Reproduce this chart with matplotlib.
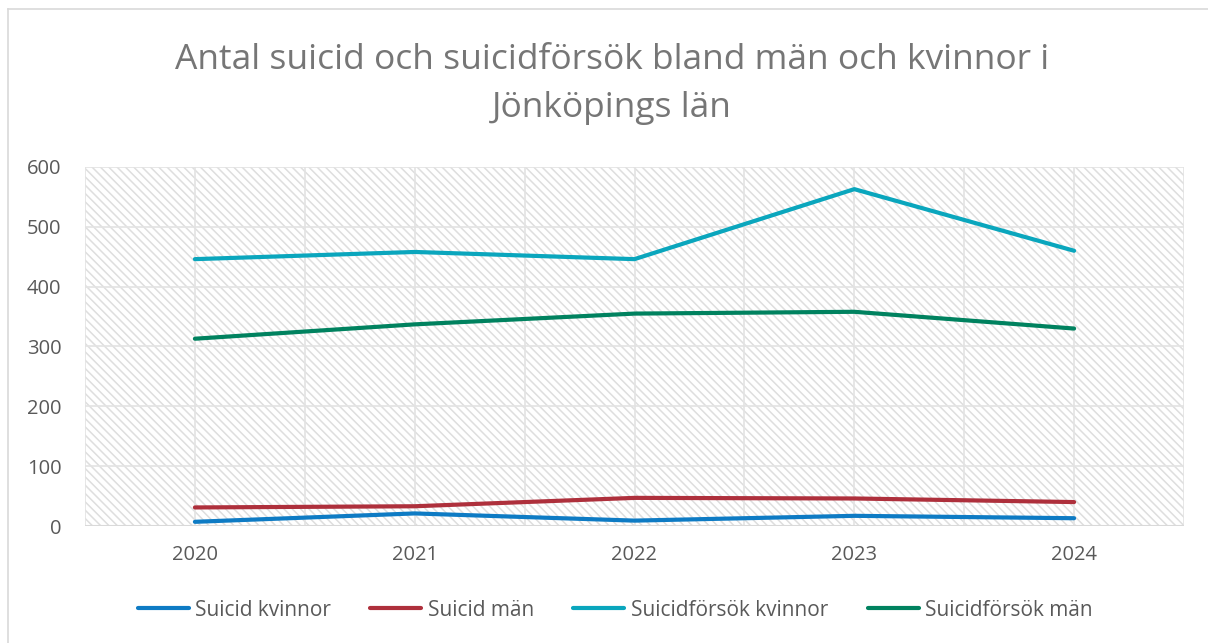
import matplotlib
matplotlib.use("Agg")
import matplotlib.pyplot as plt
from matplotlib.patches import Rectangle
from matplotlib.lines import Line2D

plt.rcParams['font.family'] = ['Open Sans', 'DejaVu Sans']
plt.rcParams['hatch.linewidth'] = 1.1

years = ["2020", "2021", "2022", "2023", "2024"]
suicid_kvinnor = [7, 21, 9, 17, 13]
suicid_man = [31, 33, 47, 46, 40]
forsok_kvinnor = [446, 458, 446, 563, 460]
forsok_man = [313, 337, 355, 358, 330]

series = [
    ("Suicid kvinnor", suicid_kvinnor, "#0E7BC4"),
    ("Suicid män", suicid_man, "#AE303C"),
    ("Suicidförsök kvinnor", forsok_kvinnor, "#0AA6BD"),
    ("Suicidförsök män", forsok_man, "#00825F"),
]

fig = plt.figure(figsize=(12.08, 6.43), dpi=100)
ax = fig.add_axes([85 / 1208, 1 - 526 / 643, (1184 - 85) / 1208, (526 - 167) / 643])

# chart border (top and left visible in the reference)
fig.add_artist(Line2D([8 / 1208, 1], [1 - 9 / 643, 1 - 9 / 643], color="#D9D9D9", lw=1.2))
fig.add_artist(Line2D([8 / 1208, 8 / 1208], [0, 1 - 9 / 643], color="#D9D9D9", lw=1.2))

# hatched plot area
ax.add_patch(Rectangle((0, 0), 1, 1, transform=ax.transAxes, facecolor="white",
                       edgecolor="#DEDEDE", hatch="\\\\\\\\", lw=0, zorder=0))

x = list(range(len(years)))
for name, vals, col in series:
    ax.plot(x, vals, color=col, lw=3.0, solid_capstyle="round", label=name, zorder=3)

ax.set_xlim(-0.5, len(years) - 0.5)
ax.set_ylim(0, 600)
ax.set_yticks(range(0, 601, 100))
ax.set_xticks(x)
ax.set_xticklabels(years)

for yv in range(100, 601, 100):
    ax.axhline(yv, color="#E3E3E3", lw=1.2, zorder=1)
for k in range(2 * len(years) + 1):
    ax.axvline(-0.5 + 0.5 * k, color="#E3E3E3", lw=1.2, zorder=1)
ax.axhline(0, color="#D9D9D9", lw=1.5, zorder=2)

for s in ax.spines.values():
    s.set_visible(False)
ax.tick_params(axis="both", length=0, labelsize=14.5, labelcolor="#595959")
ax.tick_params(axis="y", pad=17)
ax.tick_params(axis="x", pad=14)

fig.text(612 / 1208, 1 - 60 / 643, "Antal suicid och suicidförsök bland män och kvinnor i",
         ha="center", va="center", fontsize=25.5, color="#767676")
fig.text(612 / 1208, 1 - 108 / 643, "Jönköpings län",
         ha="center", va="center", fontsize=25.5, color="#767676")

fig.legend(loc="center", bbox_to_anchor=(615 / 1208, 1 - 610 / 643), ncol=4, frameon=False,
           fontsize=15, handlelength=2.45, handletextpad=0.3, columnspacing=1.9,
           labelcolor="#595959")

fig.savefig("out.png", dpi=100)
